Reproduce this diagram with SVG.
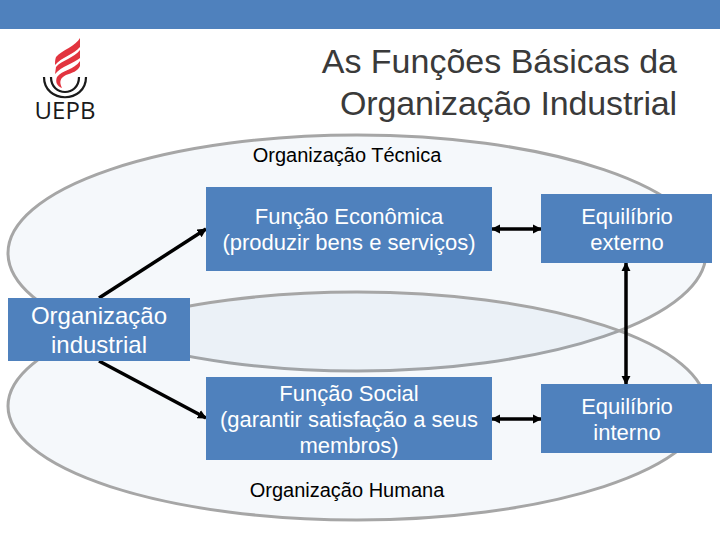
<svg xmlns="http://www.w3.org/2000/svg" width="720" height="540" viewBox="0 0 720 540">
<style>
text{font-family:"Liberation Sans",Arial,sans-serif}
.box{fill:#4f81bd}
.w{fill:#fff;font-size:22px;text-anchor:middle}
.o{font-size:24px}
.k{fill:#000;font-size:20px;text-anchor:middle}
.t{fill:#3a3a3a;font-size:34px;text-anchor:end}
.e{fill:#4f81bd;fill-opacity:.06;stroke:#a6a6a6;stroke-width:3}
.c{fill:none;stroke:#000;stroke-width:3.5}
</style>
<defs>
<marker id="a" viewBox="0 0 10 10" refX="9" refY="5" markerWidth="2.6" markerHeight="2.6" orient="auto-start-reverse"><path d="M0 0L10 5L0 10z" fill="#000"/></marker>
</defs>
<rect id="topbar" width="720" height="29" class="box"/>
<g id="logo">
<path d="M80 38C76 46 62 50 56 57C55 60 55 62 55 65C62 57 74 54 80 47z" fill="#e2343f"/>
<path d="M80 50C74 58 62 60 56 67L55 74C62 66 74 63 80 58z" fill="#e2343f"/>
<path d="M80 61C74 70 62 70 57 77C55 82 57 86 62 88C59 82 60 78 66 75C72 73 78 71 80 66z" fill="#e2343f"/>
<path d="M51 77C51 97 79 97 79 77M44 77C44 104 86 104 86 77" fill="none" stroke="#1a1a1a" stroke-width="2.2"/>
<text x="65" y="119" font-size="24" text-anchor="middle" fill="#1a1a1a" style="font-family:'Open Sans',sans-serif">UEPB</text>
</g>
<g id="title">
<text class="t" x="677" y="73">As Funções Básicas da</text>
<text class="t" x="677" y="115" style="letter-spacing:-.14px">Organização Industrial</text>
</g>
<ellipse id="org-tecnica" class="e" cx="357" cy="253" rx="349" ry="118"/>
<ellipse id="org-humana" class="e" cx="357" cy="406" rx="349" ry="114"/>
<text id="label-tecnica" class="k" x="347" y="162">Organização Técnica</text>
<text id="label-humana" class="k" x="347" y="497">Organização Humana</text>
<g id="connectors">
<line class="c" x1="99" y1="298" x2="206" y2="229" marker-end="url(#a)"/>
<line class="c" x1="99" y1="361" x2="206" y2="418" marker-end="url(#a)"/>
<line class="c" x1="492" y1="229" x2="541" y2="229" marker-start="url(#a)" marker-end="url(#a)"/>
<line class="c" x1="492" y1="419" x2="541" y2="419" marker-start="url(#a)" marker-end="url(#a)"/>
<line class="c" x1="626" y1="263" x2="626" y2="384" marker-start="url(#a)" marker-end="url(#a)"/>
</g>
<g id="org-industrial">
<rect class="box" x="8" y="298" width="182" height="63"/>
<text class="w o" x="99" y="324">Organização</text>
<text class="w o" x="99" y="353">industrial</text>
</g>
<g id="funcao-economica">
<rect class="box" x="206" y="187" width="286" height="84"/>
<text class="w" x="349" y="224">Função Econômica</text>
<text class="w" x="349" y="250">(produzir bens e serviços)</text>
</g>
<g id="funcao-social">
<rect class="box" x="206" y="377" width="286" height="83"/>
<text class="w" x="349" y="401">Função Social</text>
<text class="w" x="349" y="427">(garantir satisfação a seus</text>
<text class="w" x="349" y="453">membros)</text>
</g>
<g id="equilibrio-externo">
<rect class="box" x="541" y="194" width="171" height="69"/>
<text class="w" x="627" y="224">Equilíbrio</text>
<text class="w" x="627" y="250">externo</text>
</g>
<g id="equilibrio-interno">
<rect class="box" x="541" y="384" width="171" height="69"/>
<text class="w" x="627" y="414">Equilíbrio</text>
<text class="w" x="627" y="440">interno</text>
</g>
</svg>
